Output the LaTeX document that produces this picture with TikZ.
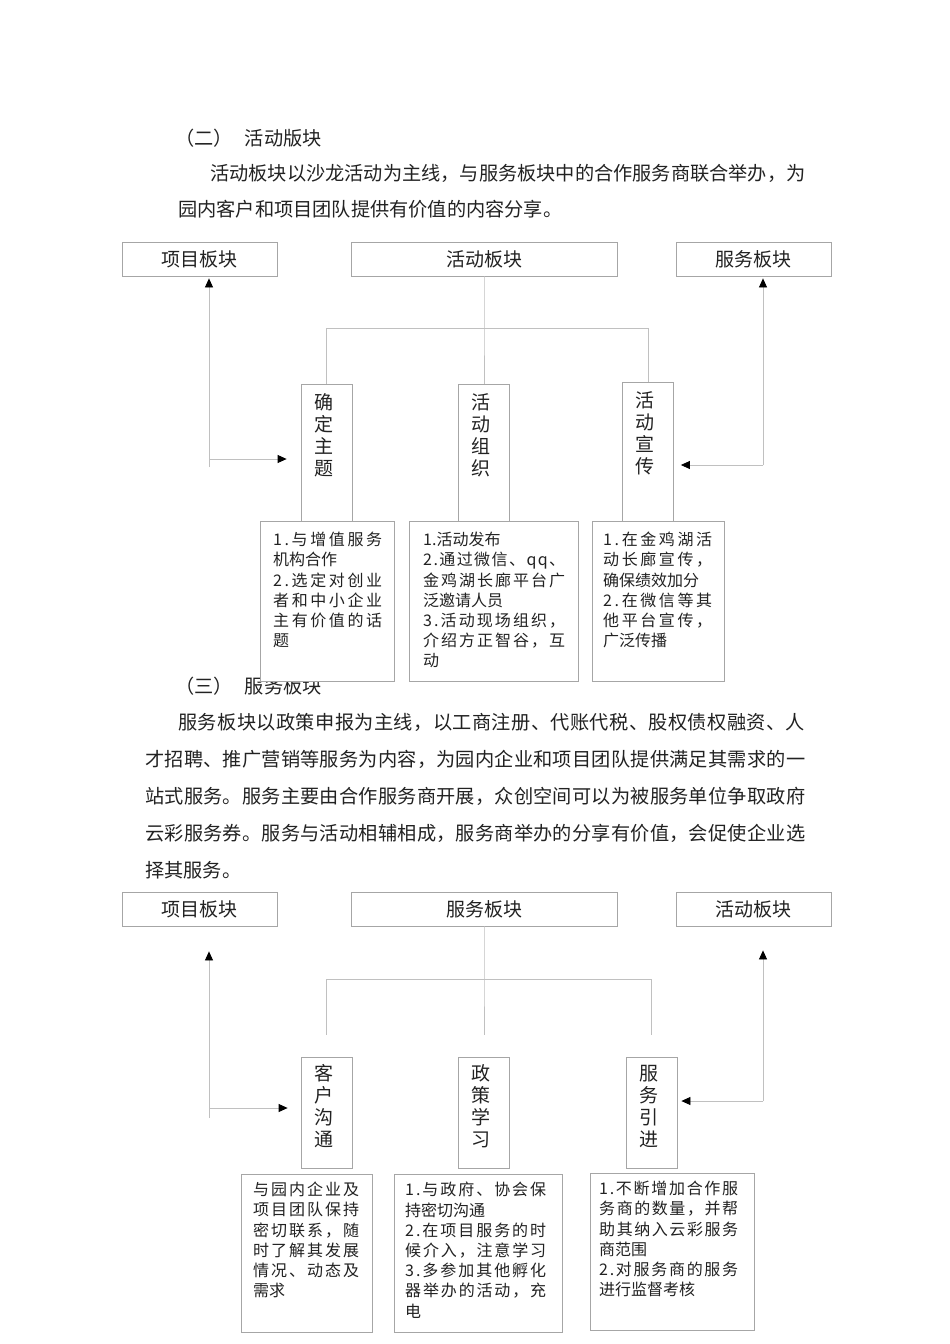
\documentclass[tikz,border=0pt]{standalone}
\usepackage{fontspec}
\setmainfont{Noto Sans CJK SC}
\usetikzlibrary{arrows.meta}
\definecolor{boxgray}{HTML}{A6A6A6}
\definecolor{linegray}{HTML}{C0C0C0}
\definecolor{inkgray}{HTML}{222222}
\ExplSyntaxOn
\NewDocumentCommand \spreadchars { m } { \tl_map_inline:nn {#1} { ##1 \hfil } \unskip }
\ExplSyntaxOff
\newcommand\jl[2][\hsize]{\makebox[#1][s]{\spreadchars{#2}}}

\begin{document}
\begin{tikzpicture}[x=1pt,y=-1pt]
\tikzset{topbox/.style={draw=boxgray, fill=white, line width=0.8pt, minimum height=34pt, inner sep=0pt, text=inkgray, font=\fontsize{19}{22}\selectfont}}
\tikzset{vbox/.style={draw=boxgray, fill=white, line width=0.8pt, minimum width=51pt, inner sep=0pt}}
\tikzset{vtext/.style={anchor=north, align=center, inner sep=0pt, text=inkgray, font=\fontsize{19}{22}\selectfont}}
\tikzset{dbox/.style={draw=boxgray, fill=white, line width=0.8pt, inner sep=0pt}}
\tikzset{dtext/.style={anchor=north west, align=left, inner sep=0pt, text=inkgray, font=\fontsize{16}{20.2}\selectfont}}
\tikzset{para/.style={anchor=west, inner sep=0pt, text=inkgray, font=\fontsize{19.2}{24}\selectfont}}
\tikzset{link/.style={draw=linegray, line width=0.8pt}}
\tikzset{arr/.style={link, -{Triangle[length=9pt, width=8pt, color=black]}}}
\useasboundingbox[fill=white] (0,0) rectangle (950,1344);

\node[para] (sec2) at (175,138) {（二）\hspace{12pt}活动版块};
\node[para] (p1a) at (210,173) {\jl[595pt]{活动板块以沙龙活动为主线，与服务板块中的合作服务商联合举办，为}};
\node[para] (p1b) at (178,209) {园内客户和项目团队提供有价值的内容分享。};
\node[para] (sec3) at (175,686) {（三）\hspace{12pt}服务板块};
\node[para] (p2a) at (178,722) {\jl[627pt]{服务板块以政策申报为主线，以工商注册、代账代税、股权债权融资、人}};
\node[para] (p2b) at (145,759) {\jl[660pt]{才招聘、推广营销等服务为内容，为园内企业和项目团队提供满足其需求的一}};
\node[para] (p2c) at (145,796) {\jl[660pt]{站式服务。服务主要由合作服务商开展，众创空间可以为被服务单位争取政府}};
\node[para] (p2d) at (145,833) {\jl[660pt]{云彩服务券。服务与活动相辅相成，服务商举办的分享有价值，会促使企业选}};
\node[para] (p2e) at (145,870) {择其服务。};

\node[topbox, minimum width=155pt] (pA) at (199.5,259) {项目板块};
\node[topbox, minimum width=266pt] (hA) at (484,259) {活动板块};
\node[topbox, minimum width=155pt] (sA) at (753.5,259) {服务板块};
\node[vbox, minimum height=137pt] (t1) at (326.5,452.5) {};
\node[vbox, minimum height=137pt] (t2) at (484,452.5) {};
\node[vbox, minimum height=139pt] (t3) at (648,451.5) {};
\node[vtext] (t1t) at ([xshift=-3pt,yshift=-10pt]t1.north) {确\\定\\主\\题};
\node[vtext] (t2t) at ([xshift=-3pt,yshift=-10pt]t2.north) {活\\动\\组\\织};
\node[vtext] (t3t) at ([xshift=-3pt,yshift=-10pt]t3.north) {活\\动\\宣\\传};
\node[dbox, minimum width=134pt, minimum height=160pt] (d1) at (327,601) {};
\node[dbox, minimum width=169pt, minimum height=160pt] (d2) at (493.5,601) {};
\node[dbox, minimum width=132pt, minimum height=160pt] (d3) at (658,601) {};
\node[dtext, text width=109pt] (d1t) at (273,532) {\jl{1.与增值服务}\\机构合作\\\jl{2.选定对创业}\\\jl{者和中小企业}\\\jl{主有价值的话}\\题};
\node[dtext, text width=142pt] (d2t) at (423,532) {1.活动发布\\\jl{2.通过微信、qq、}\\\jl{金鸡湖长廊平台广}\\泛邀请人员\\\jl{3.活动现场组织，}\\\jl{介绍方正智谷，互}\\动};
\node[dtext, text width=109pt] (d3t) at (603,532) {\jl{1.在金鸡湖活}\\\jl{动长廊宣传，}\\确保绩效加分\\\jl{2.在微信等其}\\\jl{他平台宣传，}\\广泛传播};

\coordinate (j1) at (484,328);
\draw[link] (hA.south) -- (j1) -- (t2.north);
\draw[link] (t1.north) -- (t1.north |- j1) -- (t3.north |- j1) -- (t3.north);
\coordinate (a1) at (209,459);
\coordinate (a1e) at (209,467);
\draw[arr, shorten >=2pt] (a1e) -- (a1e |- pA.south);
\draw[arr, shorten >=14pt] (a1) -- (a1 -| t1.west);
\coordinate (b1) at (763,465);
\draw[arr, shorten >=2pt] (b1) -- (b1 |- sA.south);
\draw[arr, shorten >=7pt] (b1) -- (b1 -| t3.east);

\node[topbox, minimum width=155pt] (pB) at (199.5,909) {项目板块};
\node[topbox, minimum width=266pt] (sB) at (484,909) {服务板块};
\node[topbox, minimum width=155pt] (hB) at (753.5,909) {活动板块};
\node[vbox, minimum height=111pt] (u1) at (326.5,1112.5) {};
\node[vbox, minimum height=111pt] (u2) at (484,1112.5) {};
\node[vbox, minimum height=111pt] (u3) at (651.5,1112.5) {};
\node[vtext] (u1t) at ([xshift=-3pt,yshift=-8pt]u1.north) {客\\户\\沟\\通};
\node[vtext] (u2t) at ([xshift=-3pt,yshift=-8pt]u2.north) {政\\策\\学\\习};
\node[vtext] (u3t) at ([xshift=-3pt,yshift=-8pt]u3.north) {服\\务\\引\\进};
\node[dbox, minimum width=131pt, minimum height=158pt] (e1) at (306.5,1253) {};
\node[dbox, minimum width=168pt, minimum height=158pt] (e2) at (478,1253) {};
\node[dbox, minimum width=164pt, minimum height=157pt] (e3) at (672,1251.5) {};
\node[dtext, text width=106pt] (e1t) at (253,1182) {\jl{与园内企业及}\\\jl{项目团队保持}\\\jl{密切联系，随}\\\jl{时了解其发展}\\\jl{情况、动态及}\\需求};
\node[dtext, text width=141pt] (e2t) at (405,1182) {\jl{1.与政府、协会保}\\持密切沟通\\\jl{2.在项目服务的时}\\\jl{候介入，注意学习}\\\jl{3.多参加其他孵化}\\\jl{器举办的活动，充}\\电};
\node[dtext, text width=139pt] (e3t) at (599,1181) {\jl{1.不断增加合作服}\\\jl{务商的数量，并帮}\\\jl{助其纳入云彩服务}\\商范围\\\jl{2.对服务商的服务}\\进行监督考核};

\coordinate (j2) at (484,979);
\draw[link] (sB.south) -- (j2) -- ([yshift=22pt]u2.north);
\draw[link] ([yshift=22pt]u1.north) -- (u1.north |- j2) -- (u3.north |- j2) -- ([yshift=22pt]u3.north);
\coordinate (a2) at (209,1108);
\coordinate (a2e) at (209,1118);
\draw[arr, shorten >=25pt] (a2e) -- (a2e |- pB.south);
\draw[arr, shorten >=13pt] (a2) -- (a2 -| u1.west);
\coordinate (b2) at (763,1101);
\draw[arr, shorten >=24pt] (b2) -- (b2 |- hB.south);
\draw[arr, shorten >=4pt] (b2) -- (b2 -| u3.east);
\end{tikzpicture}
\end{document}
